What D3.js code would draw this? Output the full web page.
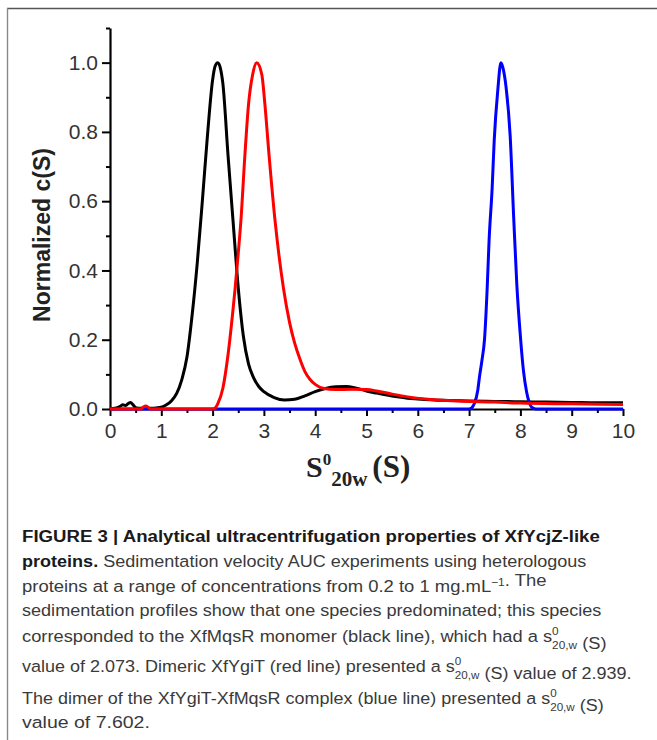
<!DOCTYPE html>
<html>
<head>
<meta charset="utf-8">
<script src="https://d3js.org/d3.v7.min.js"></script>
<style>
  html, body { margin: 0; padding: 0; background: #fff; }
  svg { display: block; }
</style>
</head>
<body>
<svg id="chart" width="657" height="740"></svg>
<script>
// ---------------- DATA ----------------
const xTickValues = [0, 1, 2, 3, 4, 5, 6, 7, 8, 9, 10];
const xTickLabels = ["0", "1", "2", "3", "4", "5", "6", "7", "8", "9", "10"];
const xMinorTicks = [0.5, 1.5, 2.5, 3.5, 4.5, 5.5, 6.5, 7.5, 8.5, 9.5];
const yTickValues = [0, 0.2, 0.4, 0.6, 0.8, 1.0];
const yTickLabels = ["0.0", "0.2", "0.4", "0.6", "0.8", "1.0"];
const yMinorTicks = [0.1, 0.3, 0.5, 0.7, 0.9, 1.1];

// XfMqsR monomer (black)
const blackX = [0, 0.1, 0.2, 0.25, 0.3, 0.35, 0.4, 0.45, 0.5, 0.6, 0.7, 0.8, 0.9, 1.0, 1.1, 1.2, 1.3, 1.4, 1.5, 1.6, 1.7, 1.8, 1.9, 2.0, 2.05, 2.1, 2.15, 2.2, 2.3, 2.4, 2.5, 2.6, 2.7, 2.8, 2.9, 3.0, 3.2, 3.4, 3.6, 3.8, 4.0, 4.2, 4.4, 4.6, 4.8, 5.0, 5.2, 5.4, 5.6, 5.8, 6.0, 6.5, 7.0, 7.5, 8.0, 8.5, 9.0, 9.5, 10.0];
const blackY = [0, 0.002, 0.008, 0.012, 0.010, 0.015, 0.019, 0.012, 0.004, 0.002, 0.002, 0.002, 0.003, 0.005, 0.012, 0.024, 0.045, 0.085, 0.15, 0.27, 0.42, 0.60, 0.79, 0.95, 0.99, 1.0, 0.985, 0.94, 0.734, 0.54, 0.35, 0.21, 0.13, 0.09, 0.065, 0.05, 0.033, 0.026, 0.028, 0.038, 0.050, 0.059, 0.064, 0.065, 0.060, 0.052, 0.046, 0.040, 0.035, 0.031, 0.029, 0.025, 0.023, 0.022, 0.021, 0.020, 0.019, 0.018, 0.018];

// XfYgiT dimer (red)
const redX = [0, 0.6, 0.65, 0.7, 0.75, 0.8, 2.0, 2.05, 2.1, 2.2, 2.3, 2.4, 2.44, 2.5, 2.55, 2.63, 2.7, 2.78, 2.86, 2.96, 3.02, 3.1, 3.22, 3.38, 3.5, 3.6, 3.7, 3.8, 3.9, 4.0, 4.15, 4.4, 4.7, 5.0, 5.2, 5.5, 5.8, 6.2, 6.8, 7.5, 8.0, 9.0, 10.0];
const redY = [0, 0, 0.006, 0.009, 0.004, 0, 0, 0.003, 0.015, 0.06, 0.156, 0.29, 0.35, 0.45, 0.54, 0.734, 0.879, 0.965, 1.0, 0.965, 0.879, 0.734, 0.54, 0.35, 0.25, 0.19, 0.145, 0.108, 0.085, 0.071, 0.06, 0.056, 0.057, 0.056, 0.052, 0.043, 0.035, 0.028, 0.023, 0.020, 0.017, 0.015, 0.013];

// XfYgiT-XfMqsR complex dimer (blue)
const blueX = [0, 7.0, 7.05, 7.1, 7.17, 7.2, 7.25, 7.3, 7.35, 7.39, 7.45, 7.49, 7.56, 7.62, 7.66, 7.72, 7.80, 7.87, 7.93, 8.0, 8.06, 8.12, 8.17, 8.22, 8.3, 10.0];
const blueY = [0, 0, 0.003, 0.015, 0.055, 0.09, 0.14, 0.20, 0.34, 0.488, 0.64, 0.777, 0.922, 1.0, 0.985, 0.93, 0.79, 0.55, 0.36, 0.21, 0.11, 0.05, 0.02, 0.005, 0, 0];

const seriesColors = ["#000000", "#0000ff", "#ff0000"];

const yAxisTitle = "Normalized c(S)";
const captionLines = [
  [{t: "FIGURE 3 | Analytical ultracentrifugation properties of XfYcjZ-like", b: true}],
  [{t: "proteins.", b: true}, {t: " Sedimentation velocity AUC experiments using heterologous"}],
  [{t: "proteins at a range of concentrations from 0.2 to 1 mg.mL"}, {t: "\u22121", sup: true}, {t: ". The"}],
  [{t: "sedimentation profiles show that one species predominated; this species"}],
  [{t: "corresponded to the XfMqsR monomer (black line), which had a s"}, {s20: true}, {t: " (S)"}],
  [{t: "value of 2.073. Dimeric XfYgiT (red line) presented a s"}, {s20: true}, {t: " (S) value of 2.939."}],
  [{t: "The dimer of the XfYgiT-XfMqsR complex (blue line) presented a s"}, {s20: true}, {t: " (S)"}],
  [{t: "value of 7.602."}]
];

// ---------------- LAYOUT ----------------
const svg = d3.select("#chart");
const mLeft = 110, mRight = 623, mTop = 28, mBottom = 409;

// frame
svg.append("line").attr("x1", 7).attr("x2", 657).attr("y1", 8.5).attr("y2", 8.5)
  .attr("stroke", "#555").attr("stroke-width", 1.6);
svg.append("line").attr("x1", 7.5).attr("x2", 7.5).attr("y1", 8).attr("y2", 740)
  .attr("stroke", "#888").attr("stroke-width", 1.4);

const x = d3.scaleLinear().domain([0, 10]).range([mLeft, mRight]);
const y = d3.scaleLinear().domain([0, 1.1]).range([mBottom, mTop]);

const line = d3.line().x(d => x(d[0])).y(d => y(d[1])).curve(d3.curveMonotoneX);
const series = [
  d3.zip(blackX, blackY),
  d3.zip(blueX, blueY),
  d3.zip(redX, redY)
];

// axes
const gx = svg.append("g").attr("transform", `translate(0,${mBottom})`)
  .call(d3.axisBottom(x).tickValues(xTickValues).tickFormat((d, i) => xTickLabels[i])
    .tickSizeInner(7).tickSizeOuter(0).tickPadding(5));
const gxm = svg.append("g").attr("transform", `translate(0,${mBottom})`)
  .call(d3.axisBottom(x).tickValues(xMinorTicks).tickFormat("").tickSizeInner(4).tickSizeOuter(0));
gxm.select(".domain").remove();

const gy = svg.append("g").attr("transform", `translate(${mLeft},0)`)
  .call(d3.axisLeft(y).tickValues(yTickValues).tickFormat((d, i) => yTickLabels[i])
    .tickSizeInner(8).tickSizeOuter(0).tickPadding(4));
const gym = svg.append("g").attr("transform", `translate(${mLeft},0)`)
  .call(d3.axisLeft(y).tickValues(yMinorTicks).tickFormat("").tickSizeInner(4).tickSizeOuter(0));
gym.select(".domain").remove();

[gx, gxm, gy, gym].forEach(g => {
  g.selectAll(".domain").attr("stroke", "#000").attr("stroke-width", 2.2);
  g.selectAll(".tick line").attr("stroke", "#000").attr("stroke-width", 2);
  g.selectAll(".tick text").attr("fill", "#333")
    .style("font-family", "'Liberation Sans', Arial, sans-serif").style("font-size", "21px");
});
gx.selectAll(".tick text").attr("dy", "0.8em");

// curves
svg.append("g").selectAll("path").data(series).join("path")
  .attr("d", line)
  .attr("fill", "none")
  .attr("stroke", (d, i) => seriesColors[i])
  .attr("stroke-width", 3)
  .attr("stroke-linejoin", "round");

// y axis title
svg.append("text")
  .attr("transform", "translate(50,235) rotate(-90)")
  .attr("text-anchor", "middle")
  .style("font-family", "'Liberation Sans', Arial, sans-serif")
  .style("font-size", "23px").style("font-weight", "bold").attr("fill", "#222")
  .text(yAxisTitle);

// x axis title  S^0_20w (S)
const xt = svg.append("text").attr("x", 306).attr("y", 477)
  .style("font-family", "'Liberation Serif', 'Times New Roman', serif")
  .style("font-weight", "bold").attr("fill", "#222");
xt.append("tspan").style("font-size", "30px").text("S");
xt.append("tspan").style("font-size", "17px").attr("dy", -12).text("0");
xt.append("tspan").style("font-size", "21px").attr("dy", 21).text("20w");
xt.append("tspan").style("font-size", "31px").attr("dy", -9).attr("dx", 5).text("(S)");

// caption
const capBase = [542, 567, 592, 616, 642, 672, 704, 728];
const capWidth = [578, 565, 525, 580, 585, 610, 582, 128];
captionLines.forEach((parts, li) => {
  const t = svg.append("text").attr("x", 0).attr("y", 0)
    .style("font-family", "'Liberation Sans', Arial, sans-serif")
    .style("font-size", "17px").attr("fill", "#3a3a3a");
  parts.forEach(p => {
    if (p.s20) {
      t.append("tspan").style("font-size", "11px").attr("dy", -7).text("0");
      t.append("tspan").style("font-size", "11px").attr("dx", -6.1).attr("dy", 14).text("20,w");
      t.append("tspan").attr("dy", -7).text("");
    } else if (p.sup) {
      t.append("tspan").style("font-size", "11px").attr("dy", -6).text(p.t);
      t.append("tspan").attr("dy", 6).text("");
    } else {
      const ts = t.append("tspan").text(p.t);
      if (p.b) ts.style("font-weight", "bold").attr("fill", "#1a1a1a");
    }
  });
  const w = t.node().getBBox().width;
  const sx = capWidth[li] / w;
  t.attr("transform", `translate(22,${capBase[li]}) scale(${sx},1)`);
});
</script>
</body>
</html>
